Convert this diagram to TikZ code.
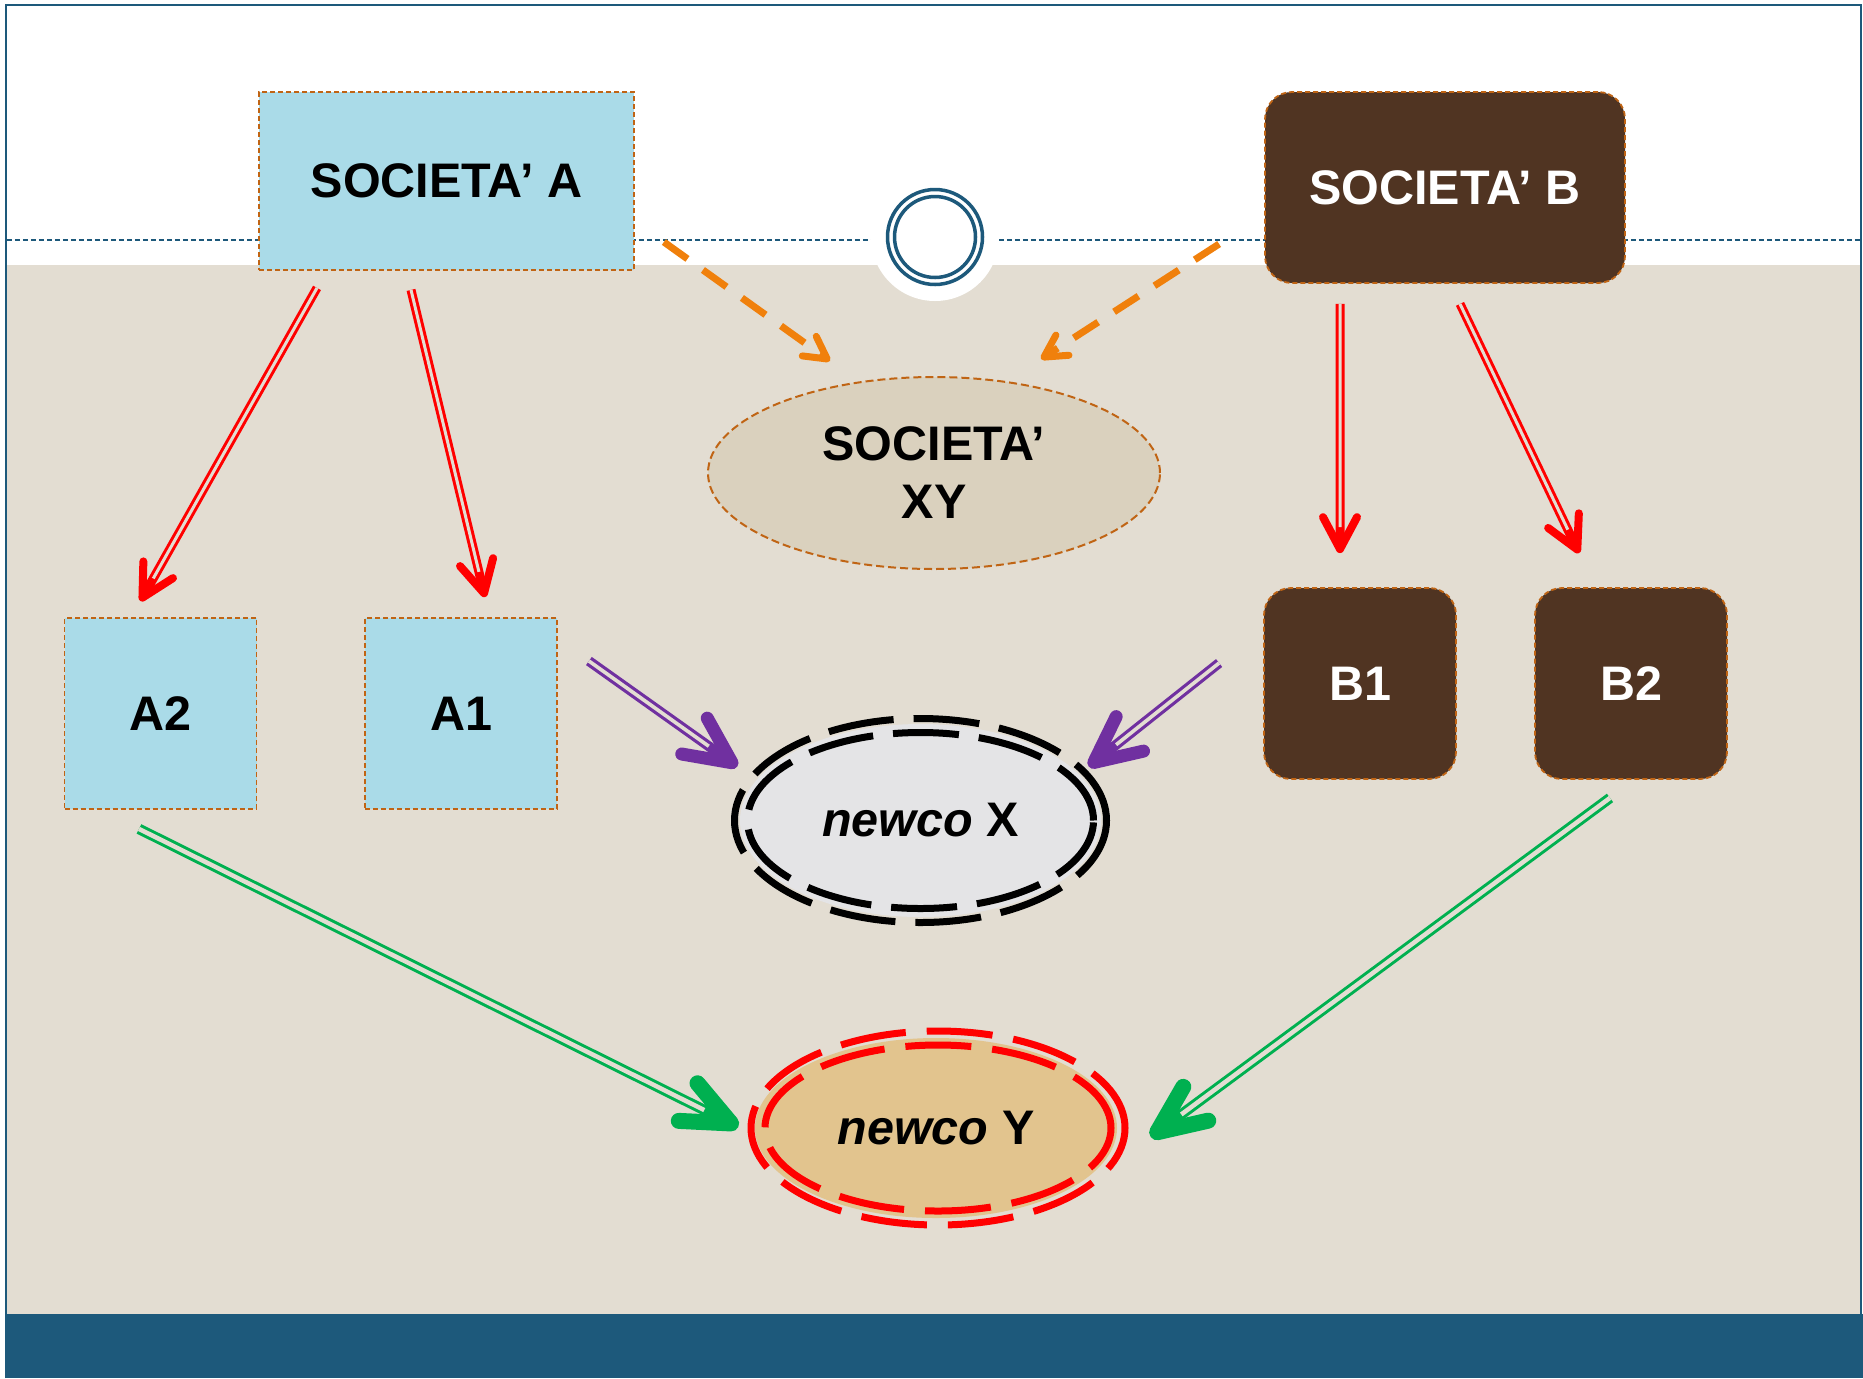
\documentclass[tikz,border=0pt]{standalone}
\usepackage{fontspec}
\setmainfont{Liberation Sans}
\usetikzlibrary{shapes.geometric,arrows.meta}

\definecolor{frameblue}{RGB}{29,89,123}
\definecolor{bgbeige}{RGB}{227,221,210}
\definecolor{waterblue}{RGB}{170,219,232}
\definecolor{marblebrown}{RGB}{80,52,34}
\definecolor{burlap}{RGB}{218,209,190}
\definecolor{marblewhite}{RGB}{228,228,230}
\definecolor{papyrus}{RGB}{226,196,142}
\definecolor{borderorange}{RGB}{192,100,20}
\definecolor{arroworange}{RGB}{240,128,12}
\definecolor{arrowpurple}{RGB}{112,48,160}
\definecolor{arrowgreen}{RGB}{0,176,80}

\begin{document}
\begin{tikzpicture}
[x=0.1mm,y=-0.1mm,
 every node/.style={inner sep=0pt,align=center,font=\bfseries\fontsize{13.8}{16.5}\selectfont},
 waterbox/.style={rectangle,fill=waterblue,draw=borderorange,line width=0.18mm,dash pattern=on 0.5mm off 0.3mm},
 marblebox/.style={rectangle,rounded corners=2.7mm,fill=marblebrown,draw=borderorange,line width=0.18mm,dash pattern=on 0.5mm off 0.3mm,text=white},
 sqbox/.style={minimum width=19.2mm,minimum height=19.1mm},
 burlapoval/.style={ellipse,fill=burlap,draw=borderorange,line width=0.2mm,dash pattern=on 0.8mm off 0.4mm,minimum width=45.2mm,minimum height=19.2mm},
 xoval/.style={ellipse,fill=marblewhite,minimum width=36.1mm,minimum height=19.3mm},
 yoval/.style={ellipse,fill=papyrus,minimum width=36.2mm,minimum height=18mm},
 xring/.style={draw=black,line width=0.7mm,dash pattern=on 6.6mm off 2mm},
 yring/.style={draw=red,line width=0.7mm,dash pattern=on 6.6mm off 2.1mm},
 redarrow/.style={draw=red,line width=0.9mm,-{Straight Barb[length=3.2mm,width=3.4mm,line width=0.8mm,round]},
   postaction={draw=bgbeige,line width=0.3mm,-,shorten >=2.6mm}},
 purplearrow/.style={draw=arrowpurple,line width=1mm,-{Straight Barb[length=4.6mm,width=4.4mm,line width=1.3mm,round]},
   postaction={draw=bgbeige,line width=0.36mm,-,shorten >=3.5mm}},
 greenarrow/.style={draw=arrowgreen,line width=1.05mm,-{Straight Barb[length=4.8mm,width=4.2mm,line width=1.6mm,round]},
   postaction={draw=bgbeige,line width=0.45mm,-,shorten >=3.8mm}},
 orangearrow/.style={draw=arroworange,line width=0.7mm,dash pattern=on 2.9mm off 1.9mm,
   -{Straight Barb[length=2.2mm,width=2.4mm,line width=0.7mm,round]}}]
\useasboundingbox (0,0) rectangle (1863,1378);
% slide background
\fill[white] (0,0) rectangle (1863,1378);
\fill[bgbeige] (7,265) rectangle (1860,1314);
\fill[frameblue] (5,1314) rectangle (1863,1378);
\draw[frameblue,line width=0.25mm] (6,1378) -- (6,5) -- (1861,5) -- (1861,1378);
\draw[frameblue,line width=0.2mm,dash pattern=on 0.5mm off 0.3mm] (7,240) -- (1860,240);
\fill[white] (935,237) circle [radius=6.4mm];
\draw[frameblue,line width=0.35mm] (935,237) circle [radius=4.75mm] (935,237) circle [radius=4.05mm];
% companies
\node[waterbox,minimum width=37.5mm,minimum height=17.8mm] (socA) at (446.5,181) {SOCIETA’ A};
\node[marblebox,minimum width=36mm,minimum height=19.1mm] (socB) at (1445,187.5) {SOCIETA’ B};
\node[burlapoval] (socXY) at (934,473) {SOCIETA’\\XY};
\node[waterbox,sqbox] (a2) at (160.5,713.5) {A2};
\node[waterbox,sqbox] (a1) at (461,713.5) {A1};
\node[marblebox,sqbox] (b1) at (1360,683.5) {B1};
\node[marblebox,sqbox] (b2) at (1631,683.5) {B2};
\node[xoval] (newX) at (920.5,820.5) {\textit{newco} X};
\node[yoval] (newY) at (936,1128) {\textit{newco} Y};
\draw[xring] (newX.center) ellipse [x radius=18.6mm,y radius=10.2mm];
\draw[xring] (newX.center) ellipse [x radius=17.3mm,y radius=8.8mm];
\draw[yring] ([xshift=0.2mm]newY.center) ellipse [x radius=18.7mm,y radius=9.7mm];
\draw[yring] ([xshift=0.2mm]newY.center) ellipse [x radius=17.3mm,y radius=8.3mm];
% arrows
\foreach \from/\fx/\fy/\to/\tx/\ty in {socA.south/-12.95/-1.7/a2.north/-2/1.6, socA.south/-3.55/-1.9/a1.north/2.4/2,
  socB.south/-10.5/-2/b1.north/-2/3.4, socB.south/1.5/-2/b2.north/-5.2/3.4}
\draw[redarrow] ([xshift=\fx mm,yshift=\fy mm]\from) -- ([xshift=\tx mm,yshift=\ty mm]\to);
\foreach \from/\fx/\fy/\to/\tx/\ty in {socA.east/2.9/-6.1/socXY.north/-10.4/1.5, socB.west/-4.5/-5.65/socXY.north/10.7/1.7}
\draw[orangearrow] ([xshift=\fx mm,yshift=\fy mm]\from) -- ([xshift=\tx mm,yshift=\ty mm]\to);
\foreach \from/\fx/\fy/\to/\tx/\ty in {a1.east/3.1/5.25/newX.west/-0.2/5.4, b1.west/-4.4/2.05/newX.east/-1.3/5.4}
\draw[purplearrow] ([xshift=\fx mm,yshift=\fy mm]\from) -- ([xshift=\tx mm,yshift=\ty mm]\to);
\foreach \from/\fx/\fy/\to/\tx/\ty in {a2.south/-2.15/-1.9/newY.west/-1.6/0.1, b2.south/-2.1/-1.8/newY.east/3.3/-0.9}
\draw[greenarrow] ([xshift=\fx mm,yshift=\fy mm]\from) -- ([xshift=\tx mm,yshift=\ty mm]\to);
\end{tikzpicture}
\end{document}
